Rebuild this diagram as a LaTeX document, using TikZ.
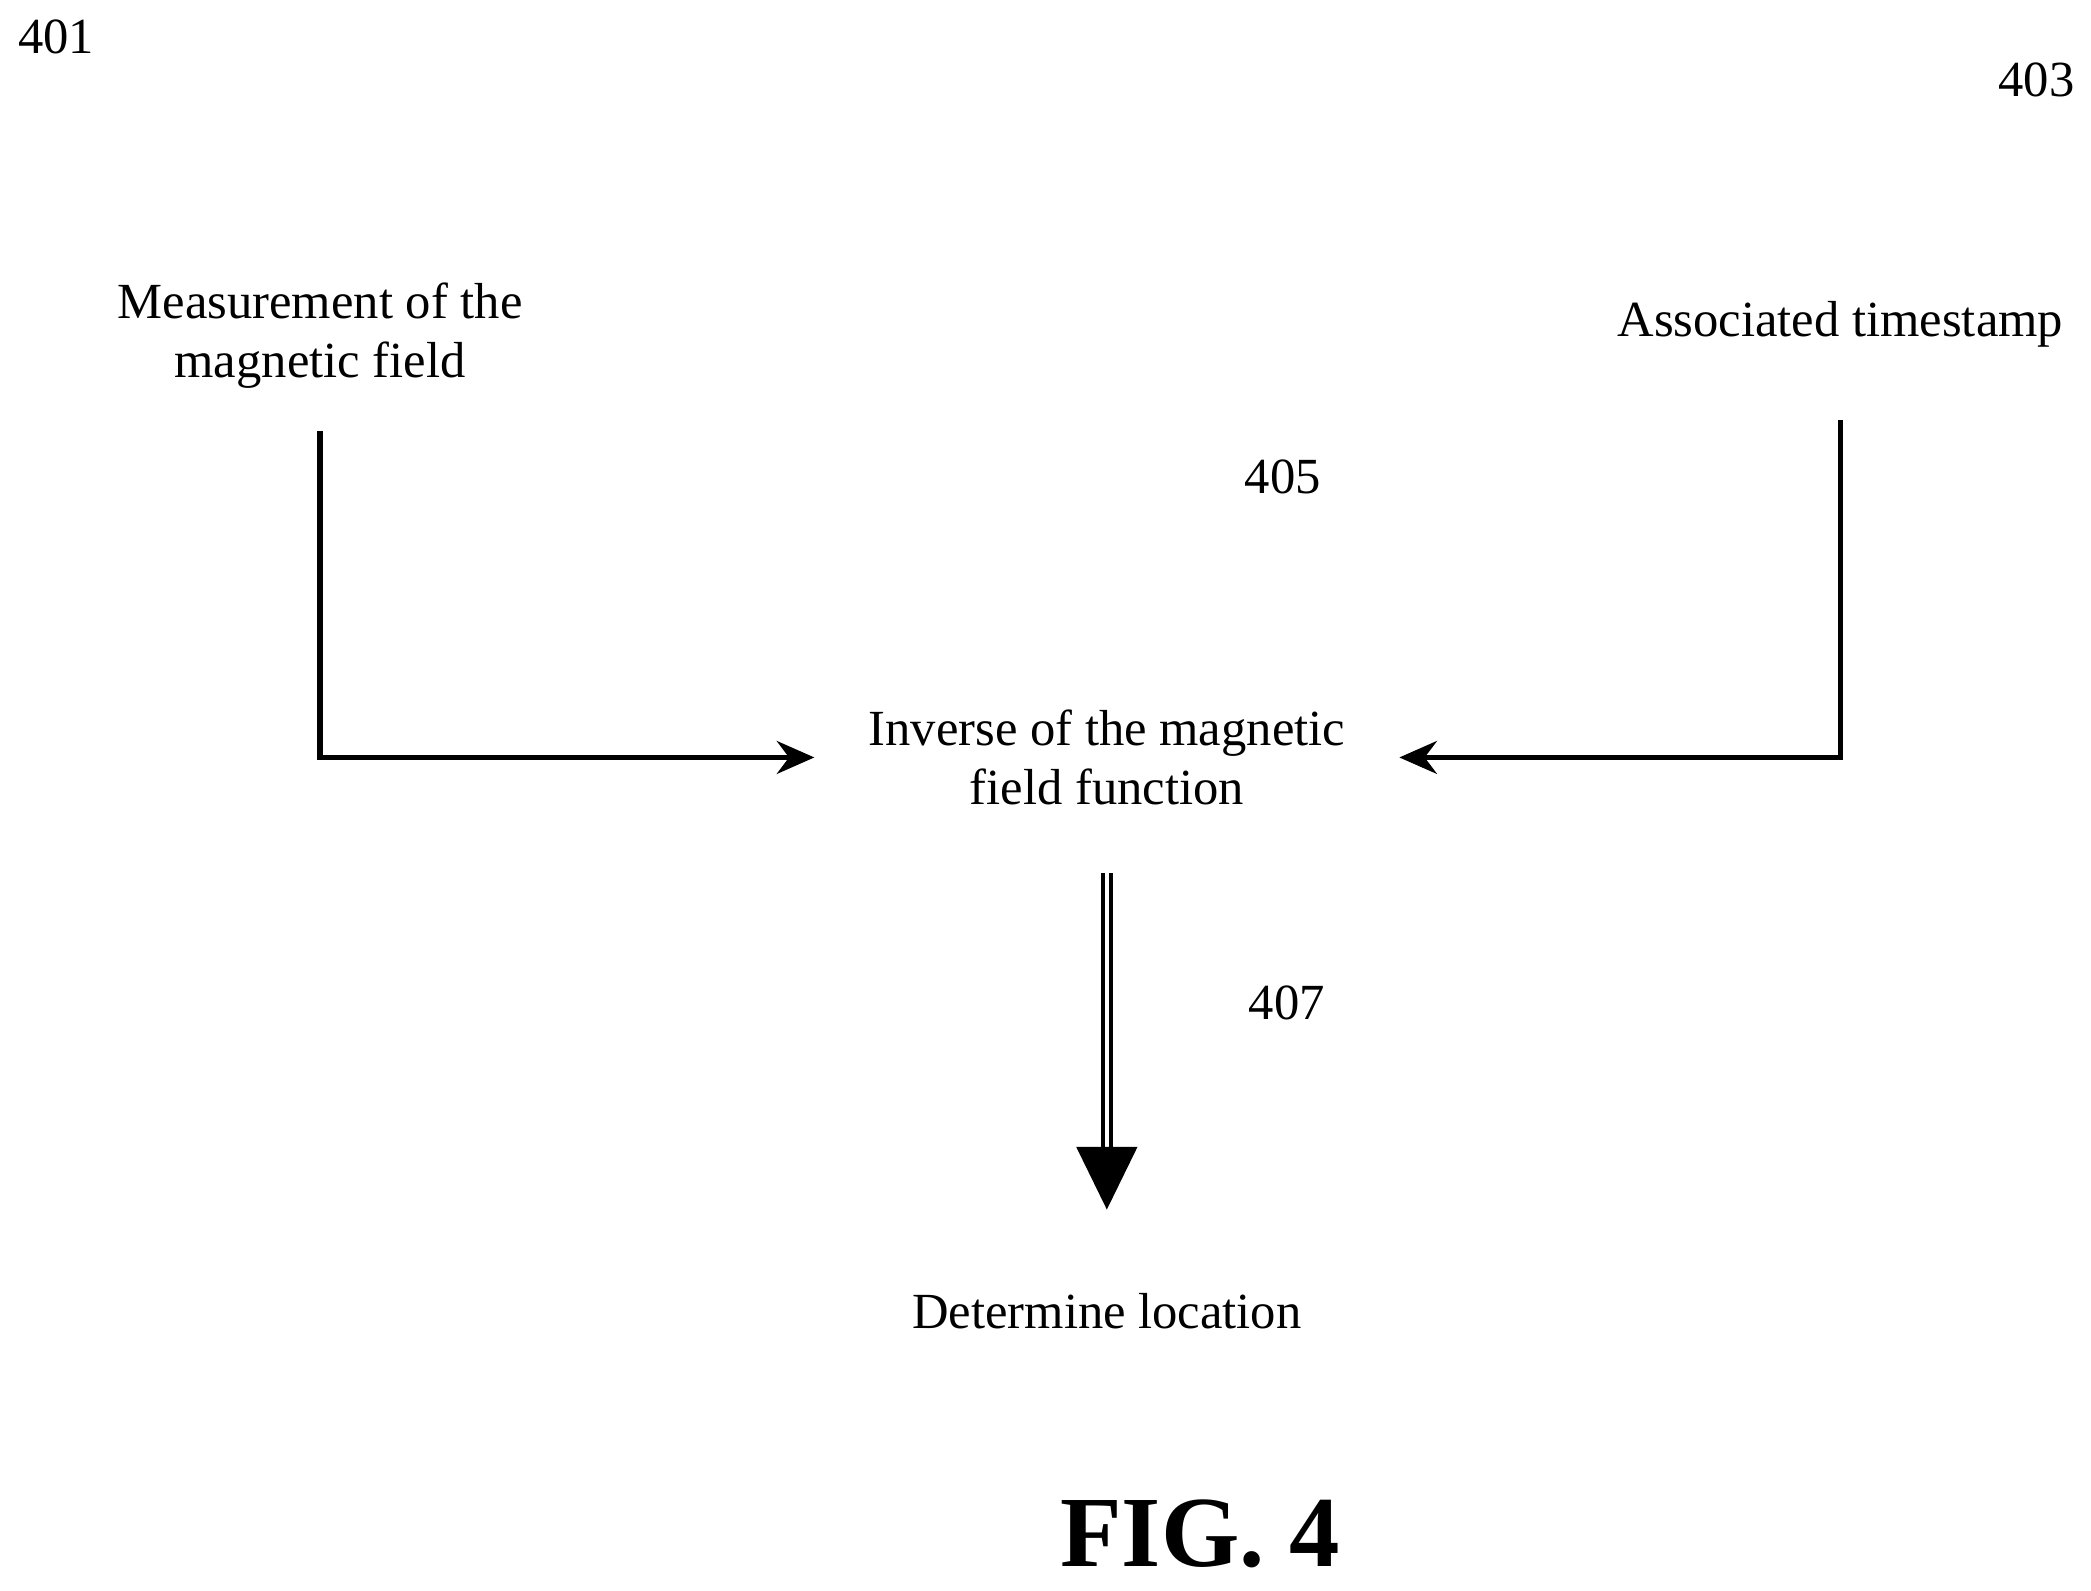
\documentclass[tikz,border=0pt]{standalone}
\usepackage{fontspec}
\setmainfont{Liberation Serif}
\usetikzlibrary{arrows.meta}
\begin{document}
\begin{tikzpicture}
            \tikzset{every node/.style={font=\fontsize{10.8}{12.6}\selectfont, align=center},
                     flow/.style={line width=1.1pt, -{Stealth[length=8pt,width=7pt]}}}
            \useasboundingbox (0,0) rectangle (15.68,-11.93);

            % reference numerals
            \node (n401) at (0.42,-0.28) {401};
            \node (n403) at (15.27,-0.60) {403};
            \node (n405) at (9.62,-3.58) {405};
            \node (n407) at (9.65,-7.52) {407};

            % steps
            \node (meas) at (2.40,-2.52) {Measurement of the\\magnetic field};
            \node (stamp) at (13.80,-2.43) {Associated timestamp};
            \node[inner xsep=0.4cm] (inv) at (8.30,-5.68) {Inverse of the magnetic\\field function};
            \node (loc) at (8.30,-9.83) {Determine location};

            \coordinate (m1) at (2.40,-3.23);
            \coordinate (s1) at (13.80,-3.15);
            \draw[flow] (m1) |- (inv.west);
            \draw[flow] (s1) |- (inv.east);

            % output arrow
            \draw[line width=1pt] (8.27,-6.55) -- (8.27,-8.62);
            \draw[line width=1pt] (8.33,-6.55) -- (8.33,-8.62);
            \fill (8.07,-8.60) -- (8.53,-8.60) -- (8.30,-9.07) -- cycle;

            \node[font=\fontsize{21.5}{25}\bfseries\selectfont] (fig) at (9.00,-11.50) {FIG. 4};

          \end{tikzpicture}
\end{document}
